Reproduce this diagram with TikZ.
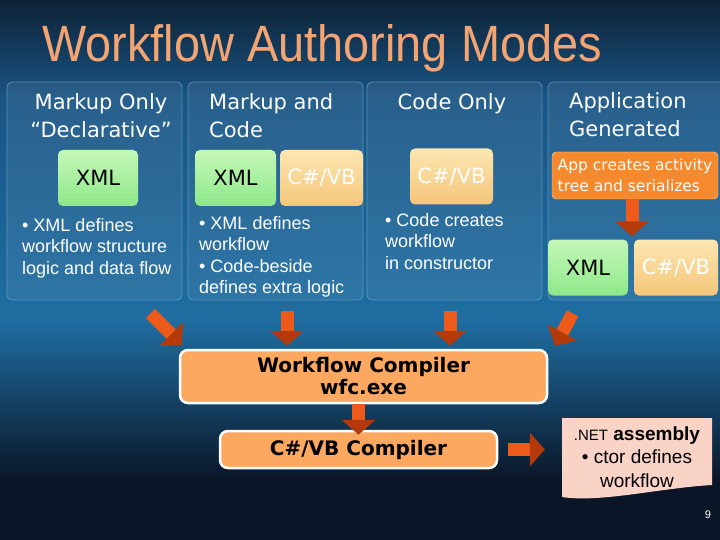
\documentclass[tikz,border=0pt]{standalone}
\usepackage{fontspec}
\setmainfont{Liberation Sans}
\newfontfamily\headfont{DejaVu Sans}
\newfontfamily\titlefont[FakeStretch=0.92]{Liberation Sans}
\usetikzlibrary{arrows.meta}

\definecolor{bgtop}{HTML}{0E2236}
\definecolor{bghigh}{HTML}{195585}
\definecolor{bgmid}{HTML}{1F6EA2}
\definecolor{bgbot}{HTML}{0A1628}
\definecolor{titlepeach}{HTML}{F2A572}
\definecolor{panelline}{HTML}{6FA6CC}
\definecolor{xmltop}{HTML}{C4F8B8}
\definecolor{xmlbot}{HTML}{8EE88A}
\definecolor{cstop}{HTML}{FCE6B0}
\definecolor{csbot}{HTML}{F4C67A}
\definecolor{apporange}{HTML}{F5892D}
\definecolor{comporange}{HTML}{FDA861}
\definecolor{arrorange}{HTML}{EE5A1A}
\definecolor{arrdark}{HTML}{B43A0C}
\definecolor{asmpink}{HTML}{F8D3C6}

\begin{document}
\begin{tikzpicture}[x=1pt,y=-1pt,
    panel/.style={draw=panelline, draw opacity=0.7, fill=white, fill opacity=0.07, rounded corners=5pt, line width=0.8pt, minimum width=175pt, minimum height=218pt},
    head/.style={text=white, font=\headfont\fontsize{21}{28}\selectfont, align=center, inner sep=0pt},
    bullets/.style={text=white, font=\fontsize{18}{21.5}\selectfont, align=left, anchor=north west, inner sep=0pt},
    modebox/.style={rounded corners=5pt, minimum height=56pt, inner sep=0pt, font=\headfont\fontsize{21}{24}\selectfont},
    xmlbox/.style={modebox, top color=xmltop, bottom color=xmlbot, text=black, minimum width=80pt},
    csbox/.style={modebox, top color=cstop, bottom color=csbot, text=white, minimum width=83pt},
    compbox/.style={draw=white, line width=2.5pt, fill=comporange, rounded corners=8pt, align=center, font=\headfont\bfseries\fontsize{20}{22}\selectfont},
    blockarr/.style={draw=arrorange, line width=13pt, -{Triangle[width=33pt,length=15pt,color=arrdark]}}]

    \shade[top color=bgtop, bottom color=bghigh] (0,0) rectangle (720,100);
    \shade[top color=bghigh, bottom color=bgmid] (0,100) rectangle (720,320);
    \shade[top color=bgmid, bottom color=bgbot] (0,320) rectangle (720,480);
    \fill[bgbot] (0,480) rectangle (720,540);
    \useasboundingbox (0,0) rectangle (720,540);

    \node[anchor=base west, inner sep=0pt, text=titlepeach, font=\titlefont\fontsize{51}{56}\selectfont] (title) at (42,62) {Workflow Authoring Modes};

    % the four modes
    \node[panel] (p1) at (94.5,191) {};
    \node[panel] (p2) at (275.5,191) {};
    \node[panel] (p3) at (454.5,191) {};
    \node[panel, minimum width=177pt] (p4) at (636.5,191) {};

    \node[head] (h1) at (101,116) {Markup Only\\“Declarative”};
    \node[head, align=left, anchor=west] (h2) at (209,116) {Markup and\\Code};
    \node[head] (h3) at (452,104) {Code Only};
    \node[head, align=left, anchor=west] (h4) at (569,115) {Application\\Generated};

    \node[xmlbox] (x1) at (98,178) {XML};
    \node[xmlbox, minimum width=81pt] (x2) at (235.5,178) {XML};
    \node[csbox] (c2) at (321.5,178) {C\#/VB};
    \node[csbox] (c3) at (451.5,176.5) {C\#/VB};
    \node[fill=apporange, draw=white!70!apporange, rounded corners=4pt, text=white, align=left, font=\headfont\fontsize{15.5}{21}\selectfont, minimum width=166pt, minimum height=47pt, inner sep=2pt] (app) at (635,175.5) {App creates activity\\tree and serializes};
    \node[xmlbox] (x4) at (588,267.5) {XML};
    \node[csbox, minimum width=84pt] (c4) at (676,267.5) {C\#/VB};

    \node[bullets] (t1) at (22,218) {• XML defines\\workflow structure\\logic and data flow};
    \node[bullets] (t2) at (199,216) {• XML defines\\workflow\\• Code-beside\\defines extra logic};
    \node[bullets] (t3) at (385,213) {• Code creates\\workflow\\in constructor};

    % compilers
    \node[compbox, minimum width=367pt, minimum height=53pt] (wfc) at (363.5,376.5) {Workflow Compiler\\wfc.exe};
    \node[compbox, minimum width=277pt, minimum height=37pt] (csc) at (358.5,449.5) {C\#/VB Compiler};

    \fill[asmpink] (562,418) -- (712,418) -- (712,485) .. controls (660,488) and (600,503) .. (562,497) -- cycle;
    \node[align=center, text=black, font=\fontsize{19}{23.5}\selectfont, minimum width=150pt, minimum height=78pt, inner sep=0pt] (asm) at (637,457) {{\fontsize{15}{18}\selectfont .NET} \textbf{assembly}\\• ctor defines\\workflow};

    \node[text=white, font=\fontsize{11}{13}\selectfont] (pg) at (708,515) {9};

    % arrows
    \draw[blockarr] ([shift={(-32pt,-13pt)}]p1.south east) -- ([shift={(3pt,4pt)}]wfc.north west);
    \draw[blockarr, shorten <=11pt, shorten >=3pt] ([xshift=11.5pt]p2.south) -- ([xshift=11.5pt]p2.south |- wfc.north);
    \draw[blockarr, shorten <=11pt, shorten >=3pt] ([xshift=-4.5pt]p3.south) -- ([xshift=-4.5pt]p3.south |- wfc.north);
    \draw[blockarr] ([shift={(25pt,-13pt)}]p4.south west) -- ([shift={(7pt,3pt)}]wfc.north east);
    \draw[blockarr, shorten >=3pt] ([xshift=-3pt]app.south) -- ([xshift=-3pt]app.south |- x4.north);
    \draw[blockarr, shorten >=-5pt] (csc.north |- wfc.south) -- (csc.north);
    \draw[blockarr, shorten <=10pt, shorten >=17pt] (csc.east) -- (csc.east -| asm.west);
\end{tikzpicture}
\end{document}
